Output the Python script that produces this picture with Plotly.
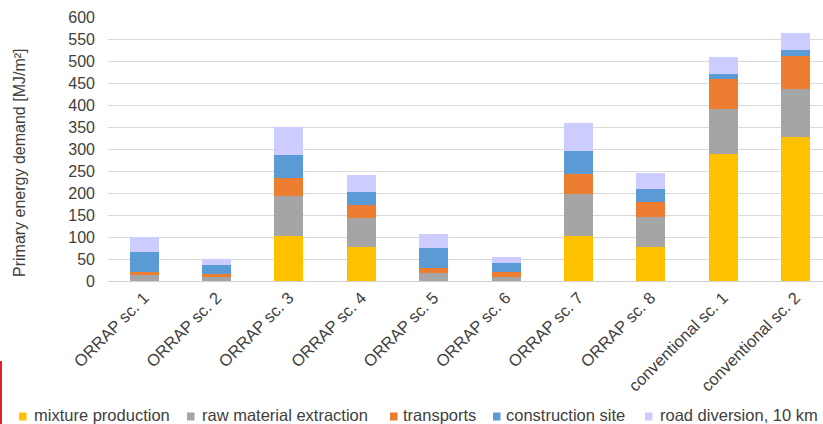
import plotly.graph_objects as go

# Scenarios on the x axis
scenarios = ["ORRAP sc. 1", "ORRAP sc. 2", "ORRAP sc. 3", "ORRAP sc. 4", "ORRAP sc. 5",
             "ORRAP sc. 6", "ORRAP sc. 7", "ORRAP sc. 8", "conventional sc. 1", "conventional sc. 2"]

# Primary energy demand per life-cycle stage [MJ/m²]
mixture_production = [0, 0, 102, 77, 0, 0, 102, 77, 289, 327]
raw_material_extraction = [13, 8, 92, 66, 18, 9, 96, 68, 101, 109]
transports = [7, 8, 39, 29, 12, 11, 45, 35, 68, 75]
construction_site = [46, 20, 53, 30, 44, 21, 53, 28, 13, 13]
road_diversion = [33, 14, 65, 38, 32, 13, 63, 38, 38, 39]

series_names = ["mixture production", "raw material extraction", "transports",
                "construction site", "road diversion, 10 km"]
series_values = [mixture_production, raw_material_extraction, transports,
                 construction_site, road_diversion]
series_colors = ["#FFC000", "#A5A5A5", "#ED7D31", "#5B9BD5", "#CCCCFF"]

y_ticks = [0, 50, 100, 150, 200, 250, 300, 350, 400, 450, 500, 550, 600]

W, H = 823, 424
L, R, T, B = 108, 0, 17, 143
plot_w = W - L - R
plot_h = H - T - B

FONT = "Liberation Sans, Arial, sans-serif"
TEXT = "#404040"

fig = go.Figure()
for name, vals, col in zip(series_names, series_values, series_colors):
    fig.add_trace(go.Bar(x=list(range(len(scenarios))), y=vals, name=name,
                         marker=dict(color=col, line=dict(width=0)),
                         showlegend=False))


def px_x(p):
    return (p - L) / plot_w


def px_y(p):
    return (H - B - p) / plot_h


# Legend row built from small squares and labels
legend_sq_left = [19, 187, 390, 493, 645]
legend_txt_left = [32, 200, 401, 504, 658]
shapes = []
annotations = []
for name, col, sx, tx in zip(series_names, series_colors, legend_sq_left, legend_txt_left):
    shapes.append(dict(type="rect", xref="paper", yref="paper",
                       x0=px_x(sx), x1=px_x(sx + 7.5), y0=px_y(420.5), y1=px_y(412.5),
                       fillcolor=col, line=dict(width=0), layer="above"))
    annotations.append(dict(text=name, xref="paper", yref="paper", x=px_x(tx), y=px_y(415),
                            xanchor="left", yanchor="middle", showarrow=False,
                            font=dict(family=FONT, size=16.5, color=TEXT)))

# Y axis title
annotations.append(dict(text="Primary energy demand [MJ/m²]", xref="paper", yref="paper",
                        x=px_x(19), y=px_y(163), textangle=-90, showarrow=False,
                        xanchor="center", yanchor="middle",
                        font=dict(family=FONT, size=16, color=TEXT)))

# Red marker line at the lower left edge
shapes.append(dict(type="line", xref="paper", yref="paper",
                   x0=px_x(1), x1=px_x(1), y0=px_y(361), y1=px_y(424),
                   line=dict(color="#E0202A", width=2)))

fig.update_layout(
    barmode="stack",
    bargap=0.6,
    width=W, height=H,
    margin=dict(l=L, r=R, t=T, b=B, pad=0),
    paper_bgcolor="white",
    plot_bgcolor="white",
    font=dict(family=FONT, size=16, color=TEXT),
    xaxis=dict(tickmode="array", tickvals=list(range(len(scenarios))), ticktext=scenarios,
               range=[-0.5, 9.38], tickangle=-45, showgrid=False, zeroline=False,
               showline=False, ticks="", ticklabelstandoff=3,
               tickfont=dict(size=16.5, color=TEXT)),
    yaxis=dict(range=[0, 600], tickvals=y_ticks, showgrid=True, gridcolor="#D9D9D9",
               gridwidth=1, zeroline=True, zerolinecolor="#D0D0D0", zerolinewidth=1,
               ticks="", ticklabelstandoff=12, tickfont=dict(size=16, color=TEXT)),
    shapes=shapes,
    annotations=annotations,
    showlegend=False,
)

fig.write_html("out.html")
